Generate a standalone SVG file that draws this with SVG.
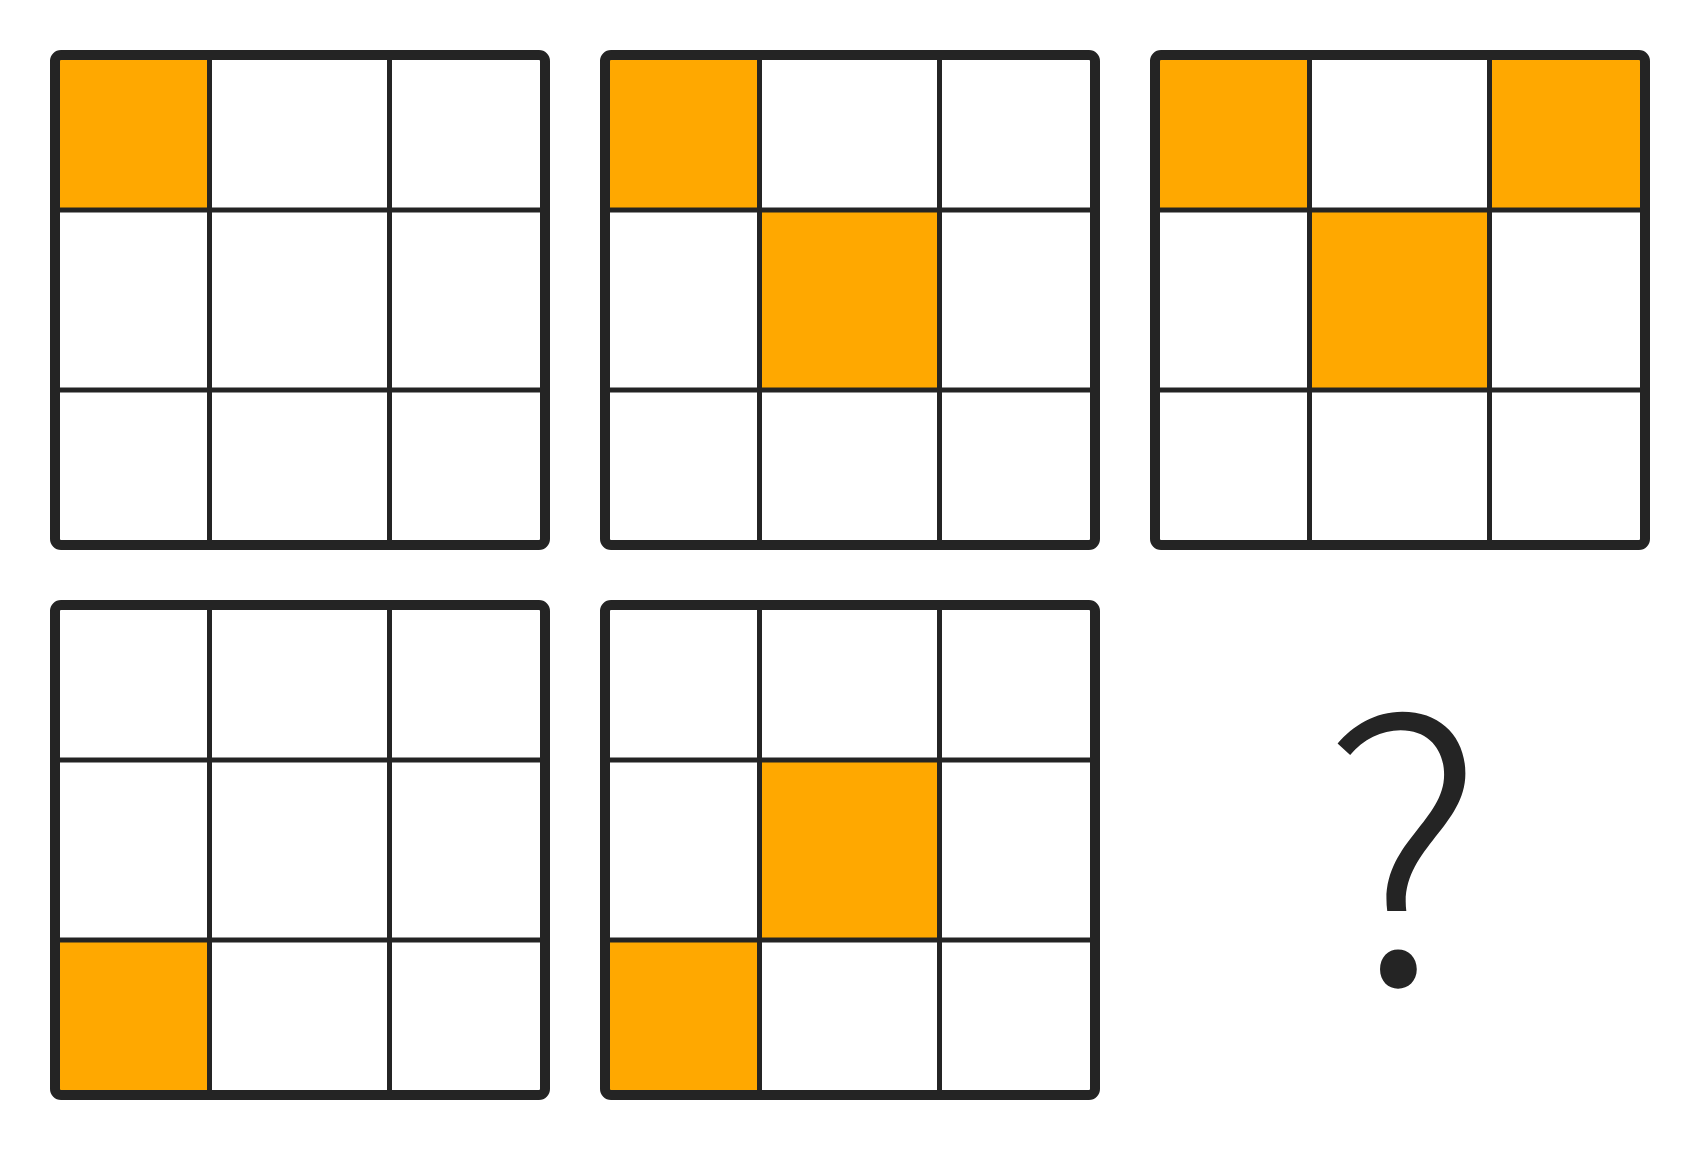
<svg xmlns="http://www.w3.org/2000/svg" width="1700" height="1150" viewBox="0 0 1700 1150">
<defs>
<style>
.bg{fill:#ffffff}
.on{fill:#ffa800}
.grid{stroke:#242424;stroke-width:5;fill:none}
.frame{stroke:#242424;stroke-width:10;fill:none}
.q{font-family:"Noto Sans CJK SC","Noto Sans",sans-serif;font-weight:300;font-size:360px;fill:#242424}
</style>
<g id="panelbase">
<path class="grid" d="M159.5,5 V495 M339.5,5 V495 M5,160 H495 M5,340 H495"/>
<rect class="frame" x="5" y="5" width="490" height="490" rx="6"/>
</g>
</defs>
<rect width="1700" height="1150" fill="#ffffff"/>
<g id="panel1" transform="translate(50,50)">
<rect class="bg" x="5" y="5" width="490" height="490"/>
<rect class="on" x="10" y="10" width="149.5" height="150"/>
<use href="#panelbase"/>
</g>
<g id="panel2" transform="translate(600,50)">
<rect class="bg" x="5" y="5" width="490" height="490"/>
<rect class="on" x="10" y="10" width="149.5" height="150"/>
<rect class="on" x="159.5" y="160" width="180" height="180"/>
<use href="#panelbase"/>
</g>
<g id="panel3" transform="translate(1150,50)">
<rect class="bg" x="5" y="5" width="490" height="490"/>
<rect class="on" x="10" y="10" width="149.5" height="150"/>
<rect class="on" x="339.5" y="10" width="150.5" height="150"/>
<rect class="on" x="159.5" y="160" width="180" height="180"/>
<use href="#panelbase"/>
</g>
<g id="panel4" transform="translate(50,600)">
<rect class="bg" x="5" y="5" width="490" height="490"/>
<rect class="on" x="10" y="340" width="149.5" height="150"/>
<use href="#panelbase"/>
</g>
<g id="panel5" transform="translate(600,600)">
<rect class="bg" x="5" y="5" width="490" height="490"/>
<rect class="on" x="159.5" y="160" width="180" height="180"/>
<rect class="on" x="10" y="340" width="149.5" height="150"/>
<use href="#panelbase"/>
</g>
<g id="question">
<text class="q" x="1404" y="984" text-anchor="middle">?</text>
</g>
</svg>
